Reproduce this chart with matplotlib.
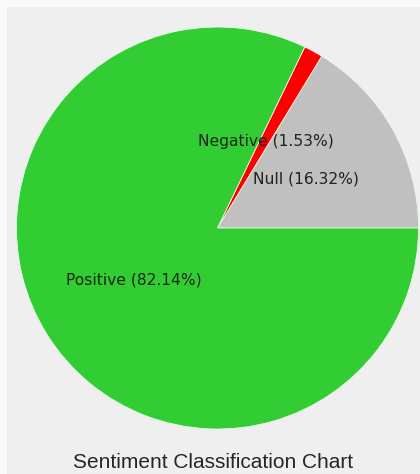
import matplotlib
matplotlib.use("Agg")
import matplotlib.pyplot as plt
from matplotlib.patches import Rectangle

categories = ["Null", "Negative", "Positive"]
values = [16.32, 1.53, 82.14]
colors = ["#c0c0c0", "#ff0000", "#32cd32"]
title = "Sentiment Classification Chart"

W, H = 420, 474
fig = plt.figure(figsize=(W / 100, H / 100), dpi=100)
fig.patch.set_facecolor("#fafafa")
ax = fig.add_axes([0, 0, 1, 1])

ax.add_patch(Rectangle((7, 0), W - 7, H - 7, facecolor="#efefef", edgecolor="none", zorder=0))

cx, cy, r = 217.5, H - 228, 201
ax.pie(values, colors=colors, startangle=0, counterclock=True,
       center=(cx, cy), radius=r, frame=True,
       wedgeprops=dict(edgecolor="#e8f8e8", linewidth=0.6))
ax.set_xlim(0, W)
ax.set_ylim(0, H)
ax.set_aspect("equal")
ax.axis("off")

label_pos = {"Null": (306, H - 179), "Negative": (266, H - 141), "Positive": (134, H - 280)}
for c, v in zip(categories, values):
    x, y = label_pos[c]
    ax.text(x, y, f"{c} ({v:.2f}%)", ha="center", va="center",
            fontsize=11.2, family="DejaVu Sans", color="#1a261a")

ax.text(213.5, H - 462, title, ha="center", va="center", fontsize=15,
        family="Liberation Sans", color="#262626")

fig.savefig("out.png", dpi=100, facecolor=fig.get_facecolor())
